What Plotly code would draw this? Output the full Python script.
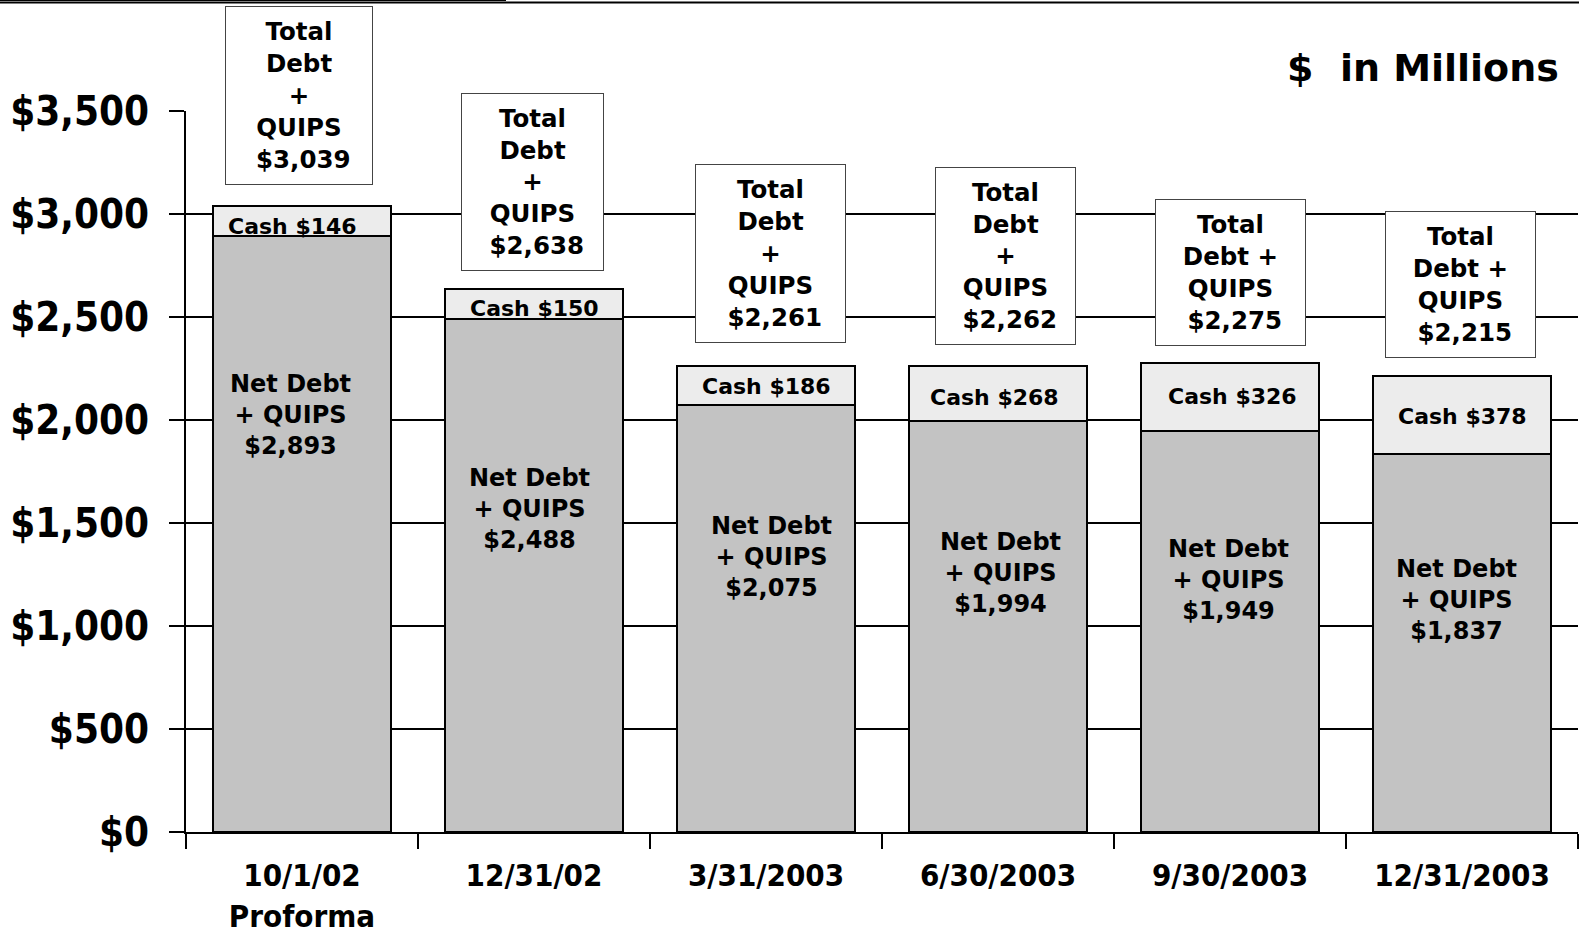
import plotly.graph_objects as go

categories = ["10/1/02<br>Proforma", "12/31/02", "3/31/2003", "6/30/2003", "9/30/2003", "12/31/2003"]
net_debt = [2893, 2488, 2075, 1994, 1949, 1837]
cash = [146, 150, 186, 268, 326, 378]
total = [3039, 2638, 2261, 2262, 2275, 2215]
total_text = ["Total<br>Debt<br>+<br>QUIPS<br> ${:,}", "Total<br>Debt<br>+<br>QUIPS<br> ${:,}",
              "Total<br>Debt<br>+<br>QUIPS<br> ${:,}", "Total<br>Debt<br>+<br>QUIPS<br> ${:,}",
              "Total<br>Debt +<br>QUIPS<br> ${:,}", "Total<br>Debt +<br>QUIPS<br> ${:,}"]
y_tick_vals = [0, 500, 1000, 1500, 2000, 2500, 3000, 3500]
y_tick_text = ["$0", "$500", "$1,000", "$1,500", "$2,000", "$2,500", "$3,000", "$3,500"]

# annotation placement (data units / pixel shifts)
box_y = [3573, 3155, 2806, 2796, 2718, 2660]
box_w = [146, 141, 149, 139, 149, 149]
box_h = [177, 176, 177, 176, 145, 145]
box_dx = [-3, -2, 4, 7, 0, -2]
net_y = [2024, 1570, 1335, 1257, 1223, 1126]
net_dx = [-12, -5, 5, 2, -2, -6]
cash_y = [2940, 2539, 2162, 2108, 2113, 2015]
cash_dx = [-10, 0, 0, -4, 2, 0]

W, H = 1579, 933
L, R, T, B = 186, 1, 111, 101
PX = (H - T - B) / 3500.0

LBL = "DejaVu Sans"
COND = "DejaVu Sans Condensed"
fig = go.Figure()
fig.add_trace(go.Bar(x=categories, y=net_debt, name="Net Debt + QUIPS",
                     marker=dict(color="#C3C3C3", line=dict(color="black", width=2)),
                     hoverinfo="skip"))
fig.add_trace(go.Bar(x=categories, y=cash, name="Cash",
                     marker=dict(color="#ECECEC", line=dict(color="black", width=2)),
                     hoverinfo="skip"))

for i, c in enumerate(categories):
    fig.add_annotation(x=c, y=total[i], xref="x", yref="y", xshift=box_dx[i],
                       yshift=(box_y[i] - total[i]) * PX,
                       text=total_text[i].format(total[i]), showarrow=False,
                       font=dict(family=LBL, size=24.5, color="black", weight="bold"),
                       bgcolor="white", bordercolor="#444444", borderwidth=1, borderpad=0,
                       width=box_w[i], height=box_h[i], align="center", valign="middle")
    fig.add_annotation(x=c, y=net_y[i], xref="x", yref="y", xshift=net_dx[i],
                       text="Net Debt<br>+ QUIPS<br>${:,}".format(net_debt[i]), showarrow=False,
                       font=dict(family=LBL, size=24, color="black", weight="bold"), align="center")
    fig.add_annotation(x=c, y=cash_y[i], xref="x", yref="y", xshift=cash_dx[i],
                       text="Cash ${:,}".format(cash[i]), showarrow=False,
                       font=dict(family=LBL, size=22, color="black", weight="bold"))

fig.add_annotation(x=(1561 - L) / (W - L - R), y=1 + (T - 68) / (H - T - B),
                   xref="paper", yref="paper", text="$  in Millions",
                   showarrow=False, font=dict(family=LBL, size=38, color="black", weight="bold"),
                   xanchor="right", yanchor="middle")

fig.add_shape(type="line", xref="paper", yref="paper",
              x0=-L / (W - L - R), x1=1 + R / (W - L - R),
              y0=1 + (T - 2.5) / (H - T - B), y1=1 + (T - 2.5) / (H - T - B),
              line=dict(color="black", width=2))
fig.add_shape(type="line", xref="paper", yref="paper",
              x0=-L / (W - L - R), x1=(506 - L) / (W - L - R),
              y0=1 + (T - 0.5) / (H - T - B), y1=1 + (T - 0.5) / (H - T - B),
              line=dict(color="black", width=1))

fig.update_layout(
    width=W, height=H, barmode="stack", bargap=0.23, showlegend=False,
    paper_bgcolor="white", plot_bgcolor="white",
    margin=dict(l=L, r=R, t=T, b=B, autoexpand=False),
)
fig.update_xaxes(showline=True, linecolor="black", linewidth=2, ticks="outside",
                 tickson="boundaries", ticklen=15, tickwidth=2, tickcolor="black",
                 tickfont=dict(family=COND, size=31, color="black", weight="bold"),
                 ticklabelstandoff=15, showgrid=False)
fig.update_yaxes(range=[0, 3500], tickmode="array", tickvals=y_tick_vals, ticktext=y_tick_text,
                 showline=True, linecolor="black", linewidth=2,
                 ticks="outside", ticklen=15, tickwidth=2, tickcolor="black",
                 showgrid=True, gridcolor="black", gridwidth=2,
                 tickfont=dict(family=COND, size=40, color="black", weight="bold"),
                 ticklabelstandoff=12, zeroline=False)

fig.write_html("out.html", config={"displayModeBar": False},
               post_script="document.body.style.margin='0';document.body.style.overflow='hidden';")
